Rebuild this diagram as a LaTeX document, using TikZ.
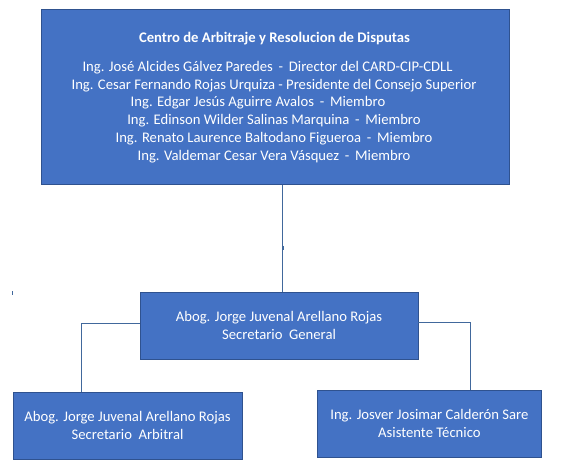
\documentclass[tikz,border=0pt]{standalone}
\usepackage{fontspec}
\setmainfont{Carlito}
\definecolor{boxfill}{HTML}{4472C4}
\definecolor{boxline}{HTML}{2F528F}
\definecolor{conn}{HTML}{41689C}
\begin{document}
\begin{tikzpicture}[x=1pt,y=-1pt,
  orgbox/.style={draw=boxline, line width=0.9pt, fill=boxfill, text=white, align=center,
    inner sep=0pt, font=\fontsize{14.67}{17.9}\selectfont},
  line/.style={text=white, inner sep=0pt, anchor=base, font=\fontsize{14.67}{17.9}\selectfont}]
\useasboundingbox (0,0) rectangle (562,470);
\fill[white] (0,0) rectangle (562,470);
% top box
\node[orgbox, minimum width=467.5pt, minimum height=175pt] (top) at (275.4,96.7) {};
\node[line, font=\fontsize{14.67}{17.9}\selectfont\bfseries] (title) at (274.5,42.4) {Centro de Arbitraje y Resolucion de Disputas};
\node[line] (l1) at (274,71.2) {Ing. José Alcides Gálvez Paredes \,-\, Director del CARD-CIP-CDLL\hspace*{13pt}};
\node[line] (l2) at (274,89.1) {Ing. Cesar Fernando Rojas Urquiza - Presidente del Consejo Superior};
\node[line] (l3) at (274,107) {Ing. Edgar Jesús Aguirre Avalos \,-\, Miembro\hspace*{32pt}};
\node[line] (l4) at (274,124.9) {Ing. Edinson Wilder Salinas Marquina \,-\, Miembro};
\node[line] (l5) at (274,142.6) {Ing. Renato Laurence Baltodano Figueroa \,-\, Miembro};
\node[line] (l6) at (274,160.2) {Ing. Valdemar Cesar Vera Vásquez \,-\, Miembro};
% middle box
\node[orgbox, minimum width=278pt, minimum height=67pt] (sg) at (279,325.5)
 {Abog. Jorge Juvenal Arellano Rojas\\Secretario \ General};
% left box
\node[orgbox, minimum width=229pt, minimum height=67pt] (sa) at (127.5,425.5)
 {Abog. Jorge Juvenal Arellano Rojas\\Secretario \ Arbitral};
% right box
\node[orgbox, minimum width=224.5pt, minimum height=67pt] (at) at (429.4,423.5)
 {Ing. Josver Josimar Calderón Sare\\Asistente Técnico};
% connectors
\tikzset{link/.style={draw=conn, line width=0.9pt}}
\coordinate (lk) at (81.3,323.5);
\coordinate (rk) at (470.7,322);
\draw[link] (top.south -| 282.7,0) -- (sg.north -| 282.7,0);
\draw[link] (sg.west |- lk) -- (lk) -- (lk |- sa.north);
\draw[link] (sg.east |- rk) -- (rk) -- (rk |- at.north);
% stray marks
\draw[conn, line width=0.8pt] (12.3,291.5) -- (12.3,295.5);
\draw[conn, line width=1.2pt] (283.3,246) -- (283.3,250);
\end{tikzpicture}
\end{document}
